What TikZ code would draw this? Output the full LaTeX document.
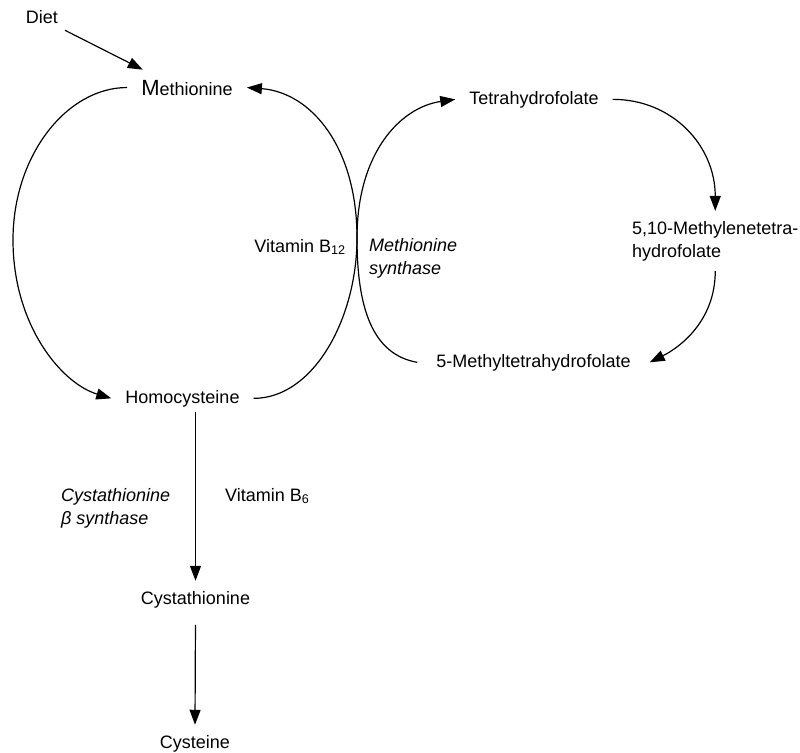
\documentclass[tikz,border=0pt]{standalone}
\usepackage{fontspec}
\setmainfont{Liberation Sans}
\usetikzlibrary{arrows.meta}

\newlength{\du}
\setlength{\du}{1pt}

\tikzset{
  metab/.style={inner xsep=14\du, inner ysep=10\du},
  lbl/.style={inner sep=0pt, align=left},
  enz/.style={lbl, font=\itshape},
  arr/.style={-{Triangle[length=15pt,width=11pt]}, line width=1.2\du},
}

\begin{document}
\fontsize{18}{23}\selectfont
\begin{tikzpicture}
\pgftransformxscale{1.000000}
\pgftransformyscale{-1.000000}
\useasboundingbox (0\du,0\du) rectangle (800\du,752\du);
% metabolites
\node[metab, inner sep=5\du, anchor=base] (diet) at (42\du,24\du){Diet};
\node[metab, anchor=base] (met) at (187\du,95\du){{\fontsize{22}{23}\selectfont M}ethionine};
\node[metab, anchor=base] (hcy) at (182.5\du,403\du){Homocysteine};
\node[metab, anchor=base] (thf) at (534\du,104\du){Tetrahydrofolate};
\node[metab, align=left, anchor=west] (mlthf) at (618\du,241\du){5,10-Methylenetetra-\\hydrofolate};
\node[metab, inner xsep=19\du, anchor=base] (mthf) at (533.5\du,367\du){5-Methyltetrahydrofolate};
\node[metab, anchor=base] (cta) at (195.5\du,604\du){Cystathionine};
\node[metab, anchor=base] (cys) at (195\du,748\du){Cysteine};
% cofactors and enzymes
\node[lbl, anchor=base] (btw) at (300\du,252\du){Vitamin B\textsubscript{12}};
\node[enz, anchor=west] (ms) at (369\du,258\du){Methionine\\synthase};
\node[enz, anchor=west] (cbs) at (61\du,508\du){Cystathionine\\β synthase};
\node[lbl, anchor=base west] (bsix) at (225\du,501\du){Vitamin B\textsubscript{6}};
% where the two cycles touch
\coordinate (xr) at (357\du,238\du);
\coordinate (lp) at (13\du,240\du);
\draw[arr, shorten <=2\du] (diet.south east)--(met.158);
% methionine cycle
\draw[arr] (met.west) .. controls +(-60\du,0\du) and +(0\du,-85\du) .. (lp)
  .. controls +(0\du,85\du) and +(-50\du,-15\du) .. (hcy.west);
\draw[arr] (hcy.east) .. controls +(60\du,0\du) and +(0\du,80\du) .. (xr)
  .. controls +(0\du,-90\du) and +(65\du,5\du) .. (met.east);
% folate cycle
\draw[arr] (mthf.west) .. controls +(-45\du,-8\du) and +(0\du,70\du) .. (xr)
  .. controls +(0\du,-85\du) and +(-55\du,8\du) .. (thf.west);
\draw[arr] (thf.east) .. controls +(60\du,0\du) and +(0\du,-65\du) .. (mlthf.north);
\draw[arr] (mlthf.south) .. controls +(0\du,50\du) and +(30\du,-15\du) .. (mthf.east);
% transsulfuration
\draw[arr, shorten <=-5\du] (hcy.south -| cta.north)--(cta.north);
\draw[arr, shorten <=7\du] (cta.south)--(cys.north);
\end{tikzpicture}
\end{document}
